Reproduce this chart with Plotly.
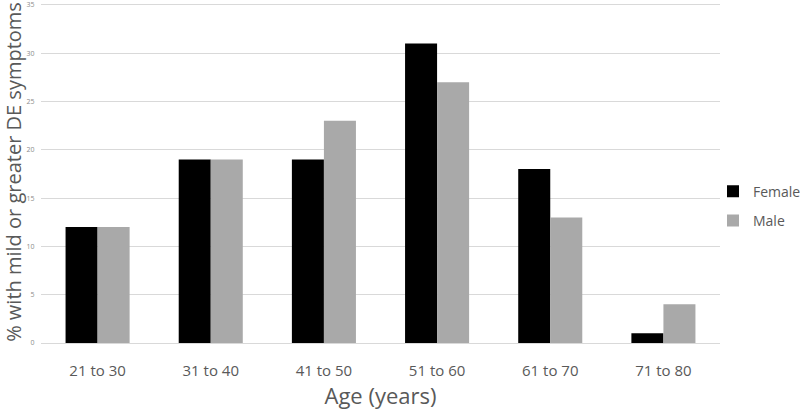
import plotly.graph_objects as go

categories = ["21 to 30", "31 to 40", "41 to 50", "51 to 60", "61 to 70", "71 to 80"]
female = [12, 19, 19, 31, 18, 1]
male = [12, 19, 23, 27, 13, 4]
y_ticks = [0, 5, 10, 15, 20, 25, 30, 35]

fig = go.Figure()
fig.add_trace(go.Bar(x=categories, y=female, name="Female", legendgroup="f",
                     marker=dict(color="#000000", line=dict(width=0))))
fig.add_trace(go.Bar(x=categories, y=male, name="Male", legendgroup="m",
                     marker=dict(color="#a9a9a9", line=dict(width=0))))

font_family = "Open Sans, Noto Sans, sans-serif"
fig.update_layout(
    width=815, height=410,
    margin=dict(l=41, r=95, t=1, b=67),
    paper_bgcolor="white", plot_bgcolor="white",
    barmode="group", bargap=0.434, bargroupgap=0,
    font=dict(family=font_family, color="#595959"),
    showlegend=True,
    legend=dict(x=(713 - 41) / 679, y=0.40, xanchor="left", yanchor="middle",
                font=dict(size=14, color="#595959"),
                itemwidth=30, tracegroupgap=8, bgcolor="rgba(0,0,0,0)"),
    xaxis=dict(
        showgrid=False, showline=True, linecolor="#d9d9d9", linewidth=1,
        ticks="outside", ticklen=14, tickcolor="rgba(0,0,0,0)",
        tickfont=dict(size=15, color="#595959"),
        title=dict(text="Age (years)", font=dict(size=22, color="#595959"), standoff=10),
        automargin=False,
    ),
    yaxis=dict(
        range=[0, 35.4], tickvals=y_ticks, showgrid=True, gridcolor="#d9d9d9",
        gridwidth=1, zeroline=False, showline=False,
        ticks="outside", ticklen=4, tickcolor="rgba(0,0,0,0)",
        ticklabeloverflow="allow",
        tickfont=dict(size=7, color="#8c8c8c"),
        title=dict(text="% with mild or greater DE symptoms",
                   font=dict(size=20, color="#595959"), standoff=0),
        automargin=False,
    ),
)

fig.write_html("out.html", config={"displayModeBar": False},
               post_script="document.body.style.margin='0';document.body.style.overflow='hidden';")
